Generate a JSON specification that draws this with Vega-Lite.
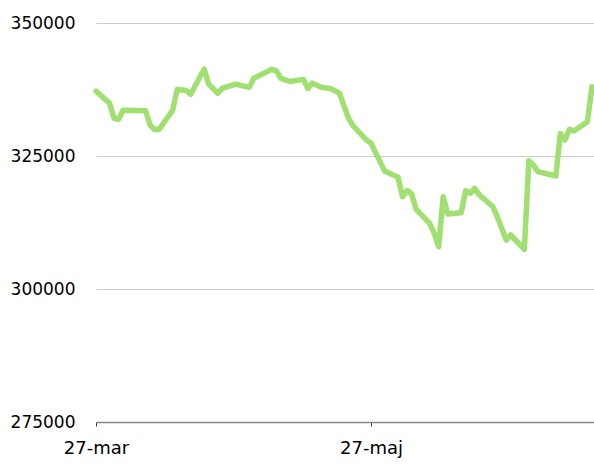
{
  "$schema": "https://vega.github.io/schema/vega-lite/v6.json",
  "width": 498,
  "height": 399,
  "autosize": {"type": "none"},
  "padding": {"left": 96, "top": 23, "right": 0, "bottom": 42},
  "background": "white",
  "config": {
    "view": {"stroke": null},
    "font": "DejaVu Sans",
    "locale": {
      "time": {
        "dateTime": "%A den %d %B %Y %X",
        "date": "%Y-%m-%d",
        "time": "%H:%M:%S",
        "periods": ["fm", "em"],
        "days": ["söndag", "måndag", "tisdag", "onsdag", "torsdag", "fredag", "lördag"],
        "shortDays": ["sön", "mån", "tis", "ons", "tor", "fre", "lör"],
        "months": ["januari", "februari", "mars", "april", "maj", "juni", "juli", "augusti", "september", "oktober", "november", "december"],
        "shortMonths": ["jan", "feb", "mar", "apr", "maj", "jun", "jul", "aug", "sep", "okt", "nov", "dec"]
      }
    }
  },
  "data": {
    "values": [
      {"date": "2020-03-27", "value": 337200},
      {"date": "2020-03-30", "value": 334900},
      {"date": "2020-03-31", "value": 332100},
      {"date": "2020-04-01", "value": 331900},
      {"date": "2020-04-02", "value": 333600},
      {"date": "2020-04-07", "value": 333500},
      {"date": "2020-04-08", "value": 330800},
      {"date": "2020-04-09", "value": 330000},
      {"date": "2020-04-10", "value": 330000},
      {"date": "2020-04-13", "value": 333600},
      {"date": "2020-04-14", "value": 337500},
      {"date": "2020-04-16", "value": 337300},
      {"date": "2020-04-17", "value": 336600},
      {"date": "2020-04-20", "value": 341350},
      {"date": "2020-04-21", "value": 338500},
      {"date": "2020-04-23", "value": 336800},
      {"date": "2020-04-24", "value": 337700},
      {"date": "2020-04-27", "value": 338500},
      {"date": "2020-04-30", "value": 337900},
      {"date": "2020-05-01", "value": 339600},
      {"date": "2020-05-05", "value": 341300},
      {"date": "2020-05-06", "value": 341000},
      {"date": "2020-05-07", "value": 339600},
      {"date": "2020-05-09", "value": 339000},
      {"date": "2020-05-12", "value": 339400},
      {"date": "2020-05-13", "value": 337700},
      {"date": "2020-05-14", "value": 338700},
      {"date": "2020-05-16", "value": 337900},
      {"date": "2020-05-18", "value": 337700},
      {"date": "2020-05-20", "value": 336800},
      {"date": "2020-05-22", "value": 332100},
      {"date": "2020-05-23", "value": 330700},
      {"date": "2020-05-26", "value": 328000},
      {"date": "2020-05-27", "value": 327400},
      {"date": "2020-05-30", "value": 322200},
      {"date": "2020-06-02", "value": 321000},
      {"date": "2020-06-03", "value": 317350},
      {"date": "2020-06-04", "value": 318500},
      {"date": "2020-06-05", "value": 317900},
      {"date": "2020-06-06", "value": 315000},
      {"date": "2020-06-09", "value": 312350},
      {"date": "2020-06-10", "value": 310500},
      {"date": "2020-06-11", "value": 307950},
      {"date": "2020-06-12", "value": 317350},
      {"date": "2020-06-13", "value": 314100},
      {"date": "2020-06-16", "value": 314350},
      {"date": "2020-06-17", "value": 318500},
      {"date": "2020-06-18", "value": 318000},
      {"date": "2020-06-19", "value": 318900},
      {"date": "2020-06-20", "value": 317700},
      {"date": "2020-06-23", "value": 315500},
      {"date": "2020-06-24", "value": 313600},
      {"date": "2020-06-26", "value": 309200},
      {"date": "2020-06-27", "value": 310150},
      {"date": "2020-06-30", "value": 307450},
      {"date": "2020-07-01", "value": 324100},
      {"date": "2020-07-02", "value": 323300},
      {"date": "2020-07-03", "value": 322050},
      {"date": "2020-07-07", "value": 321250},
      {"date": "2020-07-08", "value": 329250},
      {"date": "2020-07-09", "value": 328000},
      {"date": "2020-07-10", "value": 330000},
      {"date": "2020-07-11", "value": 329700},
      {"date": "2020-07-14", "value": 331450},
      {"date": "2020-07-15", "value": 338000}
    ]
  },
  "mark": {"type": "line", "color": "#a0e070", "strokeWidth": 5.5, "strokeJoin": "round", "strokeCap": "round"},
  "encoding": {
    "x": {
      "field": "date",
      "type": "temporal",
      "title": null,
      "scale": {"type": "utc", "domain": ["2020-03-27T00:00:00Z", "2020-07-15T11:00:00Z"], "nice": false},
      "axis": {
        "values": [
          {"year": 2020, "month": 3, "date": 27, "utc": true},
          {"year": 2020, "month": 5, "date": 27, "utc": true}
        ],
        "labelExpr": "utcFormat(datum.value, '%d-%b')",
        "grid": false,
        "domainColor": "#888888",
        "domainWidth": 1.5,
        "tickColor": "#333333",
        "tickSize": 4,
        "labelPadding": 13,
        "labelFontSize": 18,
        "labelColor": "#000000",
        "labelFont": "DejaVu Sans",
        "labelAlign": "center"
      }
    },
    "y": {
      "field": "value",
      "type": "quantitative",
      "title": null,
      "scale": {"domain": [275000, 350000], "nice": false, "zero": false},
      "axis": {
        "values": [275000, 300000, 325000, 350000],
        "format": "d",
        "domain": false,
        "ticks": false,
        "tickSize": 0,
        "labelPadding": 21,
        "labelFontSize": 17,
        "labelColor": "#000000",
        "labelFont": "DejaVu Sans",
        "gridColor": "#cccccc",
        "gridWidth": 1
      }
    }
  }
}
